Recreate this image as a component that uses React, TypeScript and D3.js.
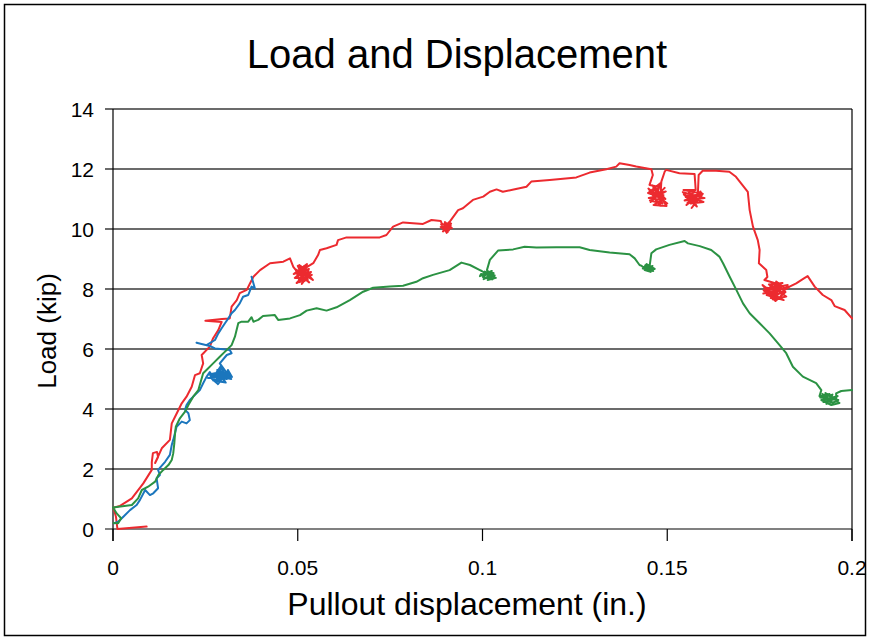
import React from 'react'
import { scaleLinear, line } from 'd3'

const WIDTH = 875
const HEIGHT = 640
const LEFT = 113
const RIGHT = 852
const TOP = 109
const BOTTOM = 529

const xTicks = [0, 0.05, 0.1, 0.15, 0.2]
const xTickLabels = ['0', '0.05', '0.1', '0.15', '0.2']
const yTicks = [0, 2, 4, 6, 8, 10, 12, 14]

// [displacement (in.), load (kip)]
const redSeries: [number, number][] = [
  [0.0091, 0.08], [0.0012, 0.0], [0.0008, 0.41], [0.0001, 0.71], [0.0019, 0.77], [0.0051, 1.02], [0.0082, 1.52],
  [0.0105, 1.97], [0.0105, 2.23], [0.0108, 2.53], [0.0119, 2.57], [0.0122, 2.4], [0.0114, 2.2], [0.0132, 2.69],
  [0.0154, 2.97], [0.0159, 3.52], [0.0168, 3.74], [0.0186, 4.19], [0.0199, 4.41], [0.0213, 4.74], [0.0222, 5.13],
  [0.0235, 5.19], [0.0244, 5.52], [0.024, 5.8], [0.0262, 6.08], [0.0271, 6.36], [0.0285, 6.63], [0.0294, 6.9],
  [0.025, 6.94], [0.0295, 7.0], [0.0316, 7.02], [0.0321, 7.41], [0.0335, 7.63], [0.0343, 7.86], [0.0362, 7.97],
  [0.0371, 8.19], [0.038, 8.41], [0.0398, 8.63], [0.0425, 8.86], [0.0461, 8.91], [0.0479, 9.02], [0.0488, 8.74],
  [0.0495, 8.63], [0.0506, 8.23], [0.0517, 8.77], [0.0527, 8.3], [0.0503, 8.47], [0.0536, 8.57], [0.0511, 8.17],
  [0.0522, 8.7], [0.0492, 8.37], [0.0533, 8.4], [0.0514, 8.57], [0.05, 8.77], [0.0519, 8.27], [0.053, 8.67],
  [0.0489, 8.5], [0.0525, 8.83], [0.0508, 8.33], [0.0538, 8.47], [0.0497, 8.2], [0.0528, 8.6], [0.0504, 8.8],
  [0.0541, 8.3], [0.0493, 8.66], [0.0516, 8.4], [0.0531, 8.22], [0.0498, 8.55],
  [0.0519, 8.69], [0.0542, 8.86], [0.0555, 9.13], [0.056, 9.3], [0.0578, 9.36], [0.0605, 9.47], [0.0609, 9.63],
  [0.0632, 9.72], [0.0677, 9.72], [0.0722, 9.72], [0.074, 9.8], [0.0758, 10.08], [0.0785, 10.22], [0.0839, 10.17],
  [0.0862, 10.3], [0.0887, 10.27], [0.089, 10.17], [0.0903, 9.87], [0.0911, 10.2], [0.0895, 9.97], [0.0917, 10.03],
  [0.0898, 10.23], [0.0906, 9.9], [0.0887, 10.07], [0.0914, 10.13], [0.0901, 10.0], [0.0893, 9.92], [0.0915, 10.18],
  [0.0888, 10.15], [0.0909, 9.95], [0.0897, 10.08],
  [0.0911, 10.24], [0.0934, 10.63],
  [0.0947, 10.69], [0.0974, 10.97], [0.1002, 11.08], [0.102, 11.24], [0.1038, 11.32], [0.1055, 11.24], [0.1078, 11.3],
  [0.1119, 11.41], [0.1132, 11.58], [0.1182, 11.63], [0.1254, 11.72], [0.129, 11.88], [0.1335, 11.99], [0.1362, 12.08],
  [0.1371, 12.19], [0.1398, 12.13], [0.1416, 12.08], [0.1457, 11.99], [0.1461, 11.8],
  [0.1452, 11.47], [0.1479, 11.4], [0.1458, 11.23], [0.149, 11.13], [0.145, 11.03], [0.1485, 10.97], [0.1463, 10.8],
  [0.1498, 10.77], [0.1471, 11.3], [0.1455, 10.9], [0.1493, 11.37], [0.1469, 11.07], [0.1482, 11.53],
  [0.1448, 11.2], [0.1495, 11.0], [0.146, 11.45], [0.1487, 10.85], [0.1453, 10.95], [0.1496, 11.25], [0.1465, 11.15],
  [0.15, 10.85], [0.1449, 11.35], [0.148, 10.78],
  [0.1484, 11.58], [0.1493, 11.91], [0.1497, 11.97], [0.1533, 11.86], [0.1574, 11.83], [0.1577, 11.3],
  [0.1544, 11.3], [0.1574, 11.23], [0.155, 11.07], [0.1588, 11.13], [0.1555, 10.87], [0.1582, 10.97], [0.1566, 10.7],
  [0.1596, 11.17], [0.156, 11.1], [0.1577, 10.8], [0.1542, 11.23], [0.1601, 11.03], [0.1547, 10.95], [0.1593, 11.2],
  [0.1558, 11.25], [0.158, 10.75], [0.1545, 11.15], [0.1598, 10.9], [0.1563, 10.85], [0.159, 11.25], [0.1552, 10.8],
  [0.1572, 11.0],
  [0.1583, 11.2], [0.1585, 11.8], [0.1596, 11.94], [0.1632, 11.94], [0.1668, 11.91], [0.1686, 11.74], [0.1718, 11.24],
  [0.1723, 10.63], [0.1732, 10.08], [0.1745, 9.63], [0.175, 9.3], [0.1748, 8.86], [0.1768, 8.63], [0.1771, 8.4],
  [0.1763, 8.3], [0.179, 8.2], [0.1771, 7.97], [0.1809, 8.07], [0.1777, 7.77], [0.182, 7.9], [0.1793, 7.6],
  [0.1758, 8.13], [0.1804, 7.7], [0.1826, 8.13], [0.1782, 8.03], [0.1798, 7.87], [0.1769, 7.8], [0.1815, 7.63],
  [0.1761, 7.95], [0.1812, 8.2], [0.1775, 8.15], [0.1822, 7.75], [0.1786, 7.65], [0.1766, 8.05], [0.1806, 7.95],
  [0.176, 7.85], [0.1818, 8.02], [0.1795, 8.25], [0.178, 7.7], [0.18, 7.82],
  [0.1831, 8.08], [0.1849, 8.19], [0.1871, 8.36], [0.188, 8.43], [0.1899, 8.08], [0.1921, 7.8], [0.1944, 7.63],
  [0.1953, 7.43], [0.198, 7.3], [0.2, 7.02],
]

const greenSeries: [number, number][] = [
  [0.0002, 0.2], [0.0014, 0.19], [0.0022, 0.36], [0.001, 0.52], [0.0, 0.72], [0.0051, 0.8], [0.0068, 1.02],
  [0.0078, 1.3], [0.0095, 1.41], [0.0114, 1.58], [0.0123, 1.8], [0.0136, 1.97], [0.015, 2.13], [0.0159, 2.3],
  [0.0163, 2.52], [0.0166, 2.86], [0.0168, 3.19], [0.017, 3.41], [0.0181, 3.69], [0.0195, 3.91], [0.0204, 4.13],
  [0.0217, 4.41], [0.0231, 4.63], [0.0244, 5.19], [0.0253, 5.3], [0.0271, 5.52], [0.0289, 5.74], [0.0308, 5.97],
  [0.0321, 6.13], [0.033, 6.41], [0.0339, 6.86], [0.0348, 6.91], [0.0366, 6.91], [0.0375, 7.06], [0.038, 6.91],
  [0.0393, 6.97], [0.0406, 7.1], [0.0438, 7.13], [0.0447, 6.97], [0.0479, 7.02], [0.0506, 7.13], [0.0524, 7.28],
  [0.0551, 7.36], [0.0578, 7.28], [0.0605, 7.39], [0.0641, 7.63], [0.0677, 7.91], [0.0704, 8.04], [0.0749, 8.08],
  [0.0785, 8.11], [0.0821, 8.24], [0.0839, 8.36], [0.0866, 8.47], [0.0911, 8.63], [0.0943, 8.88], [0.0966, 8.8],
  [0.0993, 8.63], [0.0998, 8.6], [0.102, 8.43], [0.1003, 8.33], [0.103, 8.53], [0.1009, 8.5], [0.1036, 8.37],
  [0.1014, 8.3], [0.1025, 8.6], [0.0993, 8.43], [0.0996, 8.5], [0.1033, 8.45], [0.1006, 8.58], [0.1027, 8.32],
  [0.1001, 8.4], [0.1018, 8.55],
  [0.1012, 8.63], [0.102, 8.97], [0.1042, 9.28], [0.1083, 9.32],
  [0.1114, 9.41], [0.1146, 9.38], [0.12, 9.39], [0.1263, 9.39], [0.129, 9.3], [0.1344, 9.22], [0.1398, 9.16],
  [0.1412, 9.02], [0.1425, 8.8], [0.1431, 8.77], [0.1447, 8.6], [0.146, 8.77], [0.1439, 8.63], [0.1455, 8.57],
  [0.1436, 8.73], [0.1466, 8.67], [0.1444, 8.83], [0.1434, 8.68], [0.1462, 8.6], [0.1441, 8.8], [0.1458, 8.7],
  [0.1449, 8.62],
  [0.1452, 8.74], [0.1457, 9.19], [0.147, 9.32], [0.1506, 9.47],
  [0.1547, 9.6], [0.1556, 9.52], [0.1588, 9.43], [0.1619, 9.3], [0.1641, 9.08], [0.1651, 8.86], [0.1669, 8.41],
  [0.1687, 7.97], [0.1705, 7.52], [0.1723, 7.19], [0.175, 6.86], [0.1777, 6.52], [0.1804, 6.13], [0.1822, 5.86],
  [0.184, 5.41], [0.1867, 5.08], [0.1903, 4.86], [0.1917, 4.63], [0.1912, 4.43], [0.1939, 4.5], [0.1923, 4.23],
  [0.1955, 4.33], [0.1928, 4.53], [0.1966, 4.2], [0.1944, 4.13], [0.1917, 4.3], [0.1961, 4.43], [0.1934, 4.27],
  [0.192, 4.5], [0.195, 4.18], [0.1926, 4.35], [0.1963, 4.3], [0.1914, 4.38], [0.1947, 4.48], [0.1931, 4.17],
  [0.1958, 4.25],
  [0.1957, 4.52], [0.1971, 4.6], [0.2, 4.63],
]

const blueSeries: [number, number][] = [
  [0.0003, 0.19], [0.0014, 0.24], [0.0028, 0.41], [0.0046, 0.63], [0.0064, 0.8], [0.0073, 0.97], [0.0087, 1.3],
  [0.01, 1.13], [0.0109, 1.19], [0.0122, 1.36], [0.0118, 1.69], [0.0127, 1.8], [0.0122, 1.97], [0.0141, 2.24],
  [0.0154, 2.47], [0.0159, 2.8], [0.0163, 2.97], [0.0172, 3.41], [0.0186, 3.58], [0.0199, 3.52], [0.0208, 3.63],
  [0.0204, 3.86], [0.0195, 3.97], [0.0199, 4.13], [0.0208, 4.3], [0.0222, 4.47], [0.0235, 4.63], [0.0244, 4.86],
  [0.0253, 5.07], [0.0262, 5.23], [0.0279, 4.9], [0.0289, 5.37], [0.03, 4.93], [0.0311, 5.3], [0.0322, 5.07],
  [0.0303, 5.13], [0.0284, 4.83], [0.0268, 5.0], [0.0292, 5.43], [0.0308, 5.0], [0.0276, 5.17], [0.0316, 5.2],
  [0.0257, 5.03], [0.0295, 5.07], [0.0264, 5.1], [0.0318, 5.12], [0.0282, 5.3], [0.0305, 4.88], [0.0271, 4.95],
  [0.0313, 5.05], [0.0287, 5.0], [0.0298, 5.25], [0.026, 5.15], [0.032, 5.0],
  [0.0289, 5.52], [0.0308, 5.8], [0.0321, 5.86], [0.0316, 5.97], [0.0298, 5.99],
  [0.0276, 6.02], [0.0262, 6.1], [0.0226, 6.21], [0.0253, 6.13], [0.0276, 6.3], [0.0285, 6.52], [0.0294, 6.69],
  [0.0303, 6.86], [0.0312, 7.02], [0.0321, 7.19], [0.033, 7.3], [0.0343, 7.52], [0.0352, 7.74], [0.0366, 7.8],
  [0.0375, 8.08], [0.0384, 8.02], [0.0375, 8.41],
]

const series = [
  { name: 'red', color: '#ec2a2f', data: redSeries },
  { name: 'blue', color: '#1b76bd', data: blueSeries },
  { name: 'green', color: '#2b9243', data: greenSeries },
]

const FONT = 'Liberation Sans, Arial, Helvetica, sans-serif'

const App = () => {
  const xScale = scaleLinear().domain([0, 0.2]).range([LEFT, RIGHT])
  const yScale = scaleLinear().domain([0, 14]).range([BOTTOM, TOP])
  const path = line<[number, number]>()
    .x(d => xScale(d[0]))
    .y(d => yScale(d[1]))

  return (
    <svg width={WIDTH} height={HEIGHT} viewBox={`0 0 ${WIDTH} ${HEIGHT}`}
      style={{ position: 'absolute', left: 0, top: 0, background: 'white' }}>
      <rect x={4.5} y={4.5} width={861} height={631} fill="white" stroke="black" strokeWidth={1.5} />

      <text x={457} y={68} textAnchor="middle" fontFamily={FONT} fontSize={40}>Load and Displacement</text>

      {/* horizontal gridlines + y ticks */}
      <g>
        {yTicks.map(t => (
          <g key={t}>
            <line x1={LEFT - 8} x2={RIGHT} y1={yScale(t)} y2={yScale(t)}
              style={{ stroke: t === 0 ? '#808080' : '#3a3a3a', strokeWidth: t === 0 ? 2 : 1.3 }} />
            <text x={94} y={yScale(t)} dy="0.36em" textAnchor="end" fontFamily={FONT} fontSize={21}>{t}</text>
          </g>
        ))}
      </g>

      {/* y axis and right border */}
      <line x1={LEFT} x2={LEFT} y1={TOP} y2={BOTTOM + 12} style={{ stroke: 'black', strokeWidth: 1.2 }} />
      <line x1={RIGHT} x2={RIGHT} y1={TOP} y2={BOTTOM + 12} style={{ stroke: 'black', strokeWidth: 1.2 }} />

      {/* x ticks */}
      <g>
        {xTicks.map((t, i) => (
          <g key={t}>
            <line x1={xScale(t)} x2={xScale(t)} y1={BOTTOM} y2={BOTTOM + 12} style={{ stroke: 'black', strokeWidth: 1.2 }} />
            <text x={xScale(t)} y={575} textAnchor="middle" fontFamily={FONT} fontSize={21}>{xTickLabels[i]}</text>
          </g>
        ))}
      </g>

      {series.map(s => (
        <path key={s.name} d={path(s.data) || ''} style={{
          stroke: s.color,
          strokeWidth: 2,
          fill: 'none',
          strokeLinejoin: 'round',
          strokeLinecap: 'round',
        }} />
      ))}

      <text x={467} y={615} textAnchor="middle" fontFamily={FONT} fontSize={32}>Pullout displacement (in.)</text>
      <text transform={`translate(56, 331) rotate(-90)`} textAnchor="middle" fontFamily={FONT} fontSize={26}>Load (kip)</text>
    </svg>
  )
}

export default App
